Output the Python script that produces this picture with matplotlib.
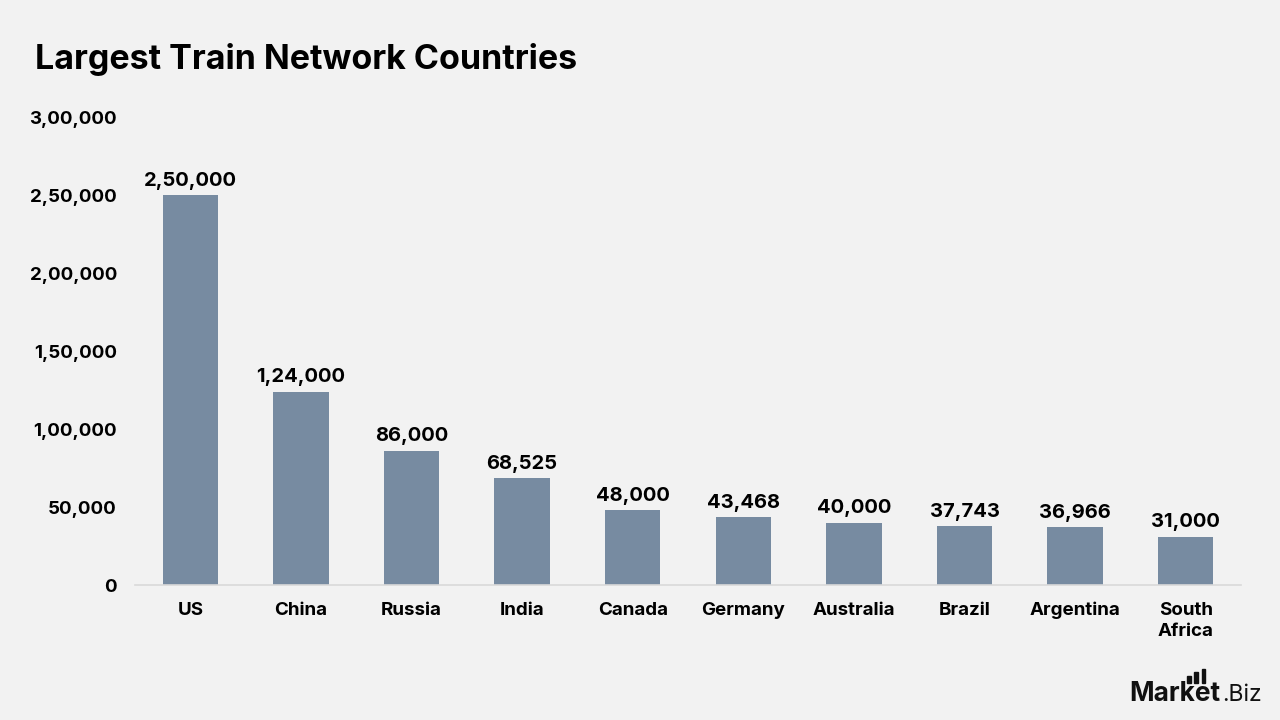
import matplotlib.pyplot as plt
import matplotlib.patches as patches
import numpy as np

# --- data ---------------------------------------------------------------------
COUNTRIES = ['US', 'China', 'Russia', 'India', 'Canada', 'Germany',
             'Australia', 'Brazil', 'Argentina', 'South\nAfrica']
RAIL_KM = [250000, 124000, 86000, 68525, 48000, 43468, 40000, 37743, 36966, 31000]
Y_TICKS = [0, 50000, 100000, 150000, 200000, 250000, 300000]

BG = '#F2F2F2'
BAR = '#778BA1'

plt.rcParams['font.family'] = ['Inter', 'DejaVu Sans']


def indian_fmt(v):
    """format with indian digit grouping, e.g. 2,50,000."""
    s = str(int(v))
    if len(s) <= 3:
        return s
    head, tail = s[:-3], s[-3:]
    parts = []
    while len(head) > 2:
        parts.insert(0, head[-2:])
        head = head[:-2]
    if head:
        parts.insert(0, head)
    return ','.join(parts) + ',' + tail


fig = plt.figure(figsize=(12.8, 7.2), dpi=100, facecolor=BG)
ax = fig.add_axes([0.1055, 0.1875, 0.864, 0.65], facecolor=BG)

x = np.arange(len(COUNTRIES))
ax.bar(x, RAIL_KM, width=0.5, color=BAR, zorder=2)

for xi, v in zip(x, RAIL_KM):
    ax.text(xi, v + 3500, indian_fmt(v), ha='center', va='bottom',
            fontsize=14.5, fontweight='bold', color='black')

ax.set_xlim(-0.5, len(COUNTRIES) - 0.5)
ax.set_ylim(0, 300000)
ax.set_yticks(Y_TICKS)
ax.set_yticklabels([indian_fmt(t) for t in Y_TICKS], fontsize=13.5, fontweight='bold')
ax.set_xticks(x)
ax.set_xticklabels(COUNTRIES, fontsize=13.5, fontweight='bold', linespacing=1.35)
ax.tick_params(axis='both', length=0)
ax.tick_params(axis='y', pad=13)
ax.tick_params(axis='x', pad=12)

for side in ['top', 'right', 'left']:
    ax.spines[side].set_visible(False)
ax.spines['bottom'].set_color('#D9D9D9')
ax.spines['bottom'].set_linewidth(1.2)

fig.text(0.027, 0.918, 'Largest Train Network Countries', fontsize=24.5,
         fontweight='bold', color='black', ha='left', va='center')

# --- logo ---------------------------------------------------------------------
fig.text(0.882, 0.026, 'Market', fontsize=19, fontweight='bold',
         color='#111111', ha='left', va='baseline')
fig.text(0.9545, 0.026, '.Biz', fontsize=16.5, color='#111111',
         ha='left', va='baseline')
for i, h in enumerate([0.010, 0.015, 0.020]):
    fig.patches.append(patches.Rectangle((0.9275 + i * 0.0056, 0.051), 0.0030, h,
                                         transform=fig.transFigure,
                                         color='#111111'))

fig.savefig('out.png', dpi=100, facecolor=BG)
